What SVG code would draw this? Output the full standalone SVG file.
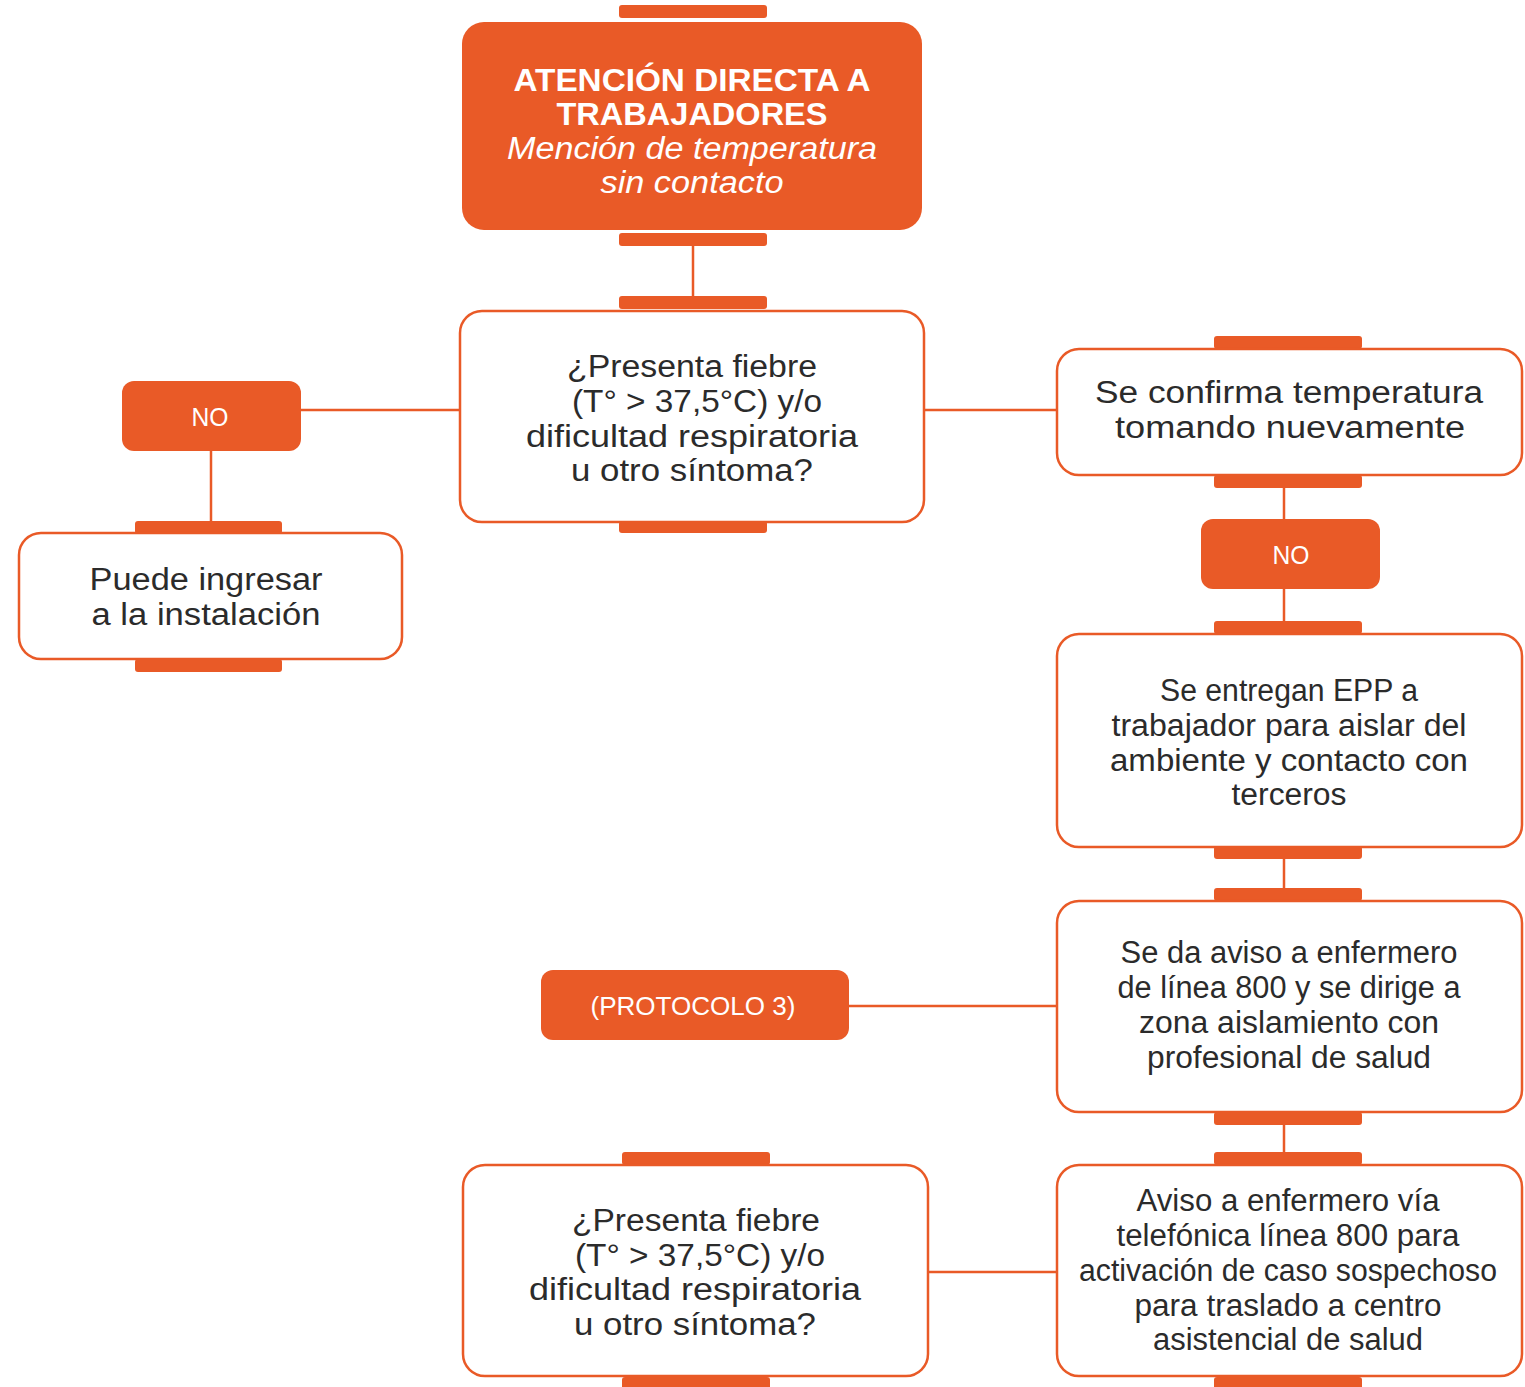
<svg xmlns="http://www.w3.org/2000/svg" width="1525" height="1387" viewBox="0 0 1525 1387">
<style>
.box{fill:#ffffff;stroke:#E95A27;stroke-width:2.5}
.obox{fill:#E95A27}
.tab{fill:#E95A27}
.conn{stroke:#E95A27;stroke-width:2.5;fill:none}
.t{font-family:"Liberation Sans","Noto Sans",Arial,sans-serif;font-size:31px;fill:#2b2b2b;text-anchor:middle}
.w{fill:#ffffff}
.b{font-weight:bold}
.i{font-style:italic}
.s{font-size:25px}
</style>
<rect x="0" y="0" width="1525" height="1387" fill="#ffffff"/>
<g id="connectors">
<line class="conn" x1="693" y1="245" x2="693" y2="297"/>
<line class="conn" x1="301" y1="410" x2="461" y2="410"/>
<line class="conn" x1="211" y1="450" x2="211" y2="522"/>
<line class="conn" x1="923" y1="410" x2="1058" y2="410"/>
<line class="conn" x1="1284" y1="487" x2="1284" y2="520"/>
<line class="conn" x1="1284" y1="588" x2="1284" y2="623"/>
<line class="conn" x1="1284" y1="858" x2="1284" y2="889"/>
<line class="conn" x1="848" y1="1006" x2="1058" y2="1006"/>
<line class="conn" x1="1284" y1="1124" x2="1284" y2="1153"/>
<line class="conn" x1="927" y1="1272" x2="1058" y2="1272"/>
</g>
<g id="n-atencion">
<rect class="tab" x="619" y="5" width="148" height="13" rx="3"/>
<rect class="obox" x="462" y="22" width="460" height="208" rx="22"/>
<rect class="tab" x="619" y="233" width="148" height="13" rx="3"/>
<text class="t w b" x="692" y="91" textLength="357" lengthAdjust="spacingAndGlyphs">ATENCIÓN DIRECTA A</text>
<text class="t w b" x="692" y="125" textLength="271" lengthAdjust="spacingAndGlyphs">TRABAJADORES</text>
<text class="t w i" x="692" y="159" textLength="370" lengthAdjust="spacingAndGlyphs">Mención de temperatura</text>
<text class="t w i" x="692" y="193" textLength="183" lengthAdjust="spacingAndGlyphs">sin contacto</text>
</g>
<g id="n-presenta1">
<rect class="tab" x="619" y="296" width="148" height="13" rx="3"/>
<rect class="box" x="460" y="311" width="464" height="211" rx="22"/>
<rect class="tab" x="619" y="521" width="148" height="12" rx="3"/>
<text class="t" x="692" y="377" textLength="250" lengthAdjust="spacingAndGlyphs">¿Presenta fiebre</text>
<text class="t" x="697" y="412" textLength="250" lengthAdjust="spacingAndGlyphs">(T° &gt; 37,5°C) y/o</text>
<text class="t" x="692" y="447" textLength="332" lengthAdjust="spacingAndGlyphs">dificultad respiratoria</text>
<text class="t" x="692" y="481" textLength="242" lengthAdjust="spacingAndGlyphs">u otro síntoma?</text>
</g>
<g id="n-no1">
<rect class="obox" x="122" y="381" width="179" height="70" rx="12"/>
<text class="t w s" x="210" y="426" textLength="37" lengthAdjust="spacingAndGlyphs">NO</text>
</g>
<g id="n-puede">
<rect class="tab" x="135" y="521" width="147" height="13" rx="3"/>
<rect class="box" x="19" y="533" width="383" height="126" rx="22"/>
<rect class="tab" x="135" y="659" width="147" height="13" rx="3"/>
<text class="t" x="206" y="590" textLength="233" lengthAdjust="spacingAndGlyphs">Puede ingresar</text>
<text class="t" x="206" y="625" textLength="229" lengthAdjust="spacingAndGlyphs">a la instalación</text>
</g>
<g id="n-confirma">
<rect class="tab" x="1214" y="336" width="148" height="13" rx="3"/>
<rect class="box" x="1057" y="349" width="465" height="126" rx="22"/>
<rect class="tab" x="1214" y="475" width="148" height="13" rx="3"/>
<text class="t" x="1289" y="403" textLength="388" lengthAdjust="spacingAndGlyphs">Se confirma temperatura</text>
<text class="t" x="1290" y="438" textLength="350" lengthAdjust="spacingAndGlyphs">tomando nuevamente</text>
</g>
<g id="n-no2">
<rect class="obox" x="1201" y="519" width="179" height="70" rx="12"/>
<text class="t w s" x="1291" y="564" textLength="37" lengthAdjust="spacingAndGlyphs">NO</text>
</g>
<g id="n-epp">
<rect class="tab" x="1214" y="621" width="148" height="13" rx="3"/>
<rect class="box" x="1057" y="634" width="465" height="213" rx="22"/>
<rect class="tab" x="1214" y="846" width="148" height="13" rx="3"/>
<text class="t" x="1289" y="701" textLength="258" lengthAdjust="spacingAndGlyphs">Se entregan EPP a</text>
<text class="t" x="1289" y="736" textLength="355" lengthAdjust="spacingAndGlyphs">trabajador para aislar del</text>
<text class="t" x="1289" y="771" textLength="358" lengthAdjust="spacingAndGlyphs">ambiente y contacto con</text>
<text class="t" x="1289" y="805" textLength="115" lengthAdjust="spacingAndGlyphs">terceros</text>
</g>
<g id="n-protocolo">
<rect class="obox" x="541" y="970" width="308" height="70" rx="12"/>
<text class="t w s" x="693" y="1015" textLength="205" lengthAdjust="spacingAndGlyphs">(PROTOCOLO 3)</text>
</g>
<g id="n-aviso1">
<rect class="tab" x="1214" y="888" width="148" height="13" rx="3"/>
<rect class="box" x="1057" y="901" width="465" height="211" rx="22"/>
<rect class="tab" x="1214" y="1112" width="148" height="13" rx="3"/>
<text class="t" x="1289" y="963" textLength="337" lengthAdjust="spacingAndGlyphs">Se da aviso a enfermero</text>
<text class="t" x="1289" y="998" textLength="343" lengthAdjust="spacingAndGlyphs">de línea 800 y se dirige a</text>
<text class="t" x="1289" y="1033" textLength="300" lengthAdjust="spacingAndGlyphs">zona aislamiento con</text>
<text class="t" x="1289" y="1068" textLength="284" lengthAdjust="spacingAndGlyphs">profesional de salud</text>
</g>
<g id="n-aviso2">
<rect class="tab" x="1214" y="1152" width="148" height="13" rx="3"/>
<rect class="box" x="1057" y="1165" width="465" height="211" rx="22"/>
<rect class="tab" x="1214" y="1377" width="148" height="13" rx="3"/>
<text class="t" x="1288" y="1211" textLength="303" lengthAdjust="spacingAndGlyphs">Aviso a enfermero vía</text>
<text class="t" x="1288" y="1246" textLength="343" lengthAdjust="spacingAndGlyphs">telefónica línea 800 para</text>
<text class="t" x="1288" y="1281" textLength="418" lengthAdjust="spacingAndGlyphs">activación de caso sospechoso</text>
<text class="t" x="1288" y="1316" textLength="307" lengthAdjust="spacingAndGlyphs">para traslado a centro</text>
<text class="t" x="1288" y="1350" textLength="270" lengthAdjust="spacingAndGlyphs">asistencial de salud</text>
</g>
<g id="n-presenta2">
<rect class="tab" x="622" y="1152" width="148" height="13" rx="3"/>
<rect class="box" x="463" y="1165" width="465" height="211" rx="22"/>
<rect class="tab" x="622" y="1377" width="148" height="13" rx="3"/>
<text class="t" x="696" y="1231" textLength="248" lengthAdjust="spacingAndGlyphs">¿Presenta fiebre</text>
<text class="t" x="700" y="1266" textLength="250" lengthAdjust="spacingAndGlyphs">(T° &gt; 37,5°C) y/o</text>
<text class="t" x="695" y="1300" textLength="332" lengthAdjust="spacingAndGlyphs">dificultad respiratoria</text>
<text class="t" x="695" y="1335" textLength="242" lengthAdjust="spacingAndGlyphs">u otro síntoma?</text>
</g>
</svg>
